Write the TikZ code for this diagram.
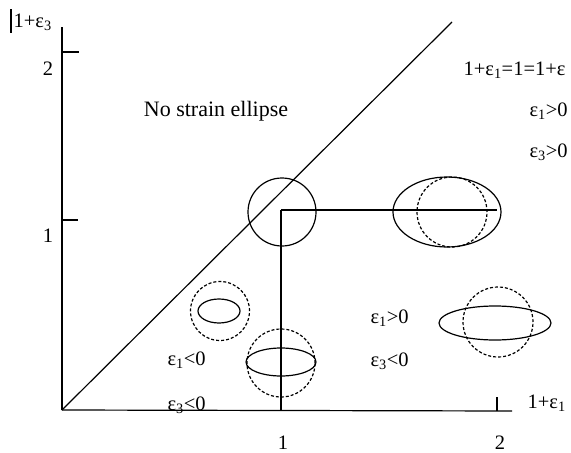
\documentclass[tikz,border=0pt]{standalone}
\usepackage{fontspec}
\setmainfont{Liberation Serif}
\newcommand{\epsi}[1]{ε\textsubscript{#1}}
\begin{document}
\begin{tikzpicture}[x=1pt,y=-1pt,line width=1.2pt,
  lbl/.style={font=\fontsize{20.5}{24}\selectfont,inner sep=0pt},
  bigl/.style={font=\fontsize{22}{26}\selectfont,inner sep=0pt},
  solidshape/.style={draw,line width=1.2pt},
  dashshape/.style={draw,dash pattern=on 3pt off 2pt,line width=1.2pt}]
\useasboundingbox (0,0) rectangle (571,453);
% axes
\coordinate (O) at (62,410);
\coordinate (Ytop) at (62,27);
\coordinate (Xend) at (512,411);
\coordinate (Dend) at (452,22);
\coordinate (P) at (281,210);
\coordinate (Q) at (497,210);
\coordinate (R) at (281,411);
\coordinate (y2a) at (62,52);  \coordinate (y2b) at (79,52);
\coordinate (y1a) at (62,220); \coordinate (y1b) at (78,220);
\coordinate (x2a) at (497,397); \coordinate (x2b) at (497,411);
\coordinate (bara) at (11,9); \coordinate (barb) at (11,33);
\draw (O) -- (Ytop);
\draw (O) -- (Xend);
\draw (O) -- (Dend);
\draw (P) -- (Q);
\draw (P) -- (R);
\draw (y2a) -- (y2b);
\draw (y1a) -- (y1b);
\draw (x2a) -- (x2b);
\draw (bara) -- (barb);
% strain shapes
\draw[solidshape] (282,212) circle[radius=34pt];
\draw[solidshape] (447,212) ellipse[x radius=54pt,y radius=35pt];
\draw[dashshape] (452,212) circle[radius=35pt];
\draw[solidshape] (495,323) ellipse[x radius=56pt,y radius=17pt];
\draw[dashshape] (498,322) circle[radius=35pt];
\draw[dashshape] (220,311) circle[radius=29.5pt];
\draw[solidshape] (219,311) ellipse[x radius=21pt,y radius=12pt];
\draw[dashshape] (281,363) circle[radius=34pt];
\draw[solidshape] (281,362) ellipse[x radius=35pt,y radius=14pt];
% labels
\node[lbl,anchor=west] (ylab) at (13,22) {1+\epsi{3}};
\node[lbl] (ytwo) at (48,69) {2};
\node[lbl] (yone) at (48,236) {1};
\node[bigl] (nostrain) at (216,111) {No strain ellipse};
\node[lbl,anchor=west] (diag) at (463,70) {1+\epsi{1}=1=1+ε};
\node[lbl,anchor=west] (e1pos) at (529,111) {\epsi{1}>0};
\node[lbl,anchor=west] (e3pos) at (529,152) {\epsi{3}>0};
\node[lbl,anchor=west] (e1neg) at (167,360) {\epsi{1}<0};
\node[lbl,anchor=west] (e3neg) at (167,405) {\epsi{3}<0};
\node[lbl,anchor=west] (e1posb) at (370,318) {\epsi{1}>0};
\node[lbl,anchor=west] (e3negb) at (370,361) {\epsi{3}<0};
\node[lbl,anchor=west] (xlab) at (527,403) {1+\epsi{1}};
\node[lbl] (xone) at (283,443) {1};
\node[lbl] (xtwo) at (500,443) {2};
\end{tikzpicture}
\end{document}
